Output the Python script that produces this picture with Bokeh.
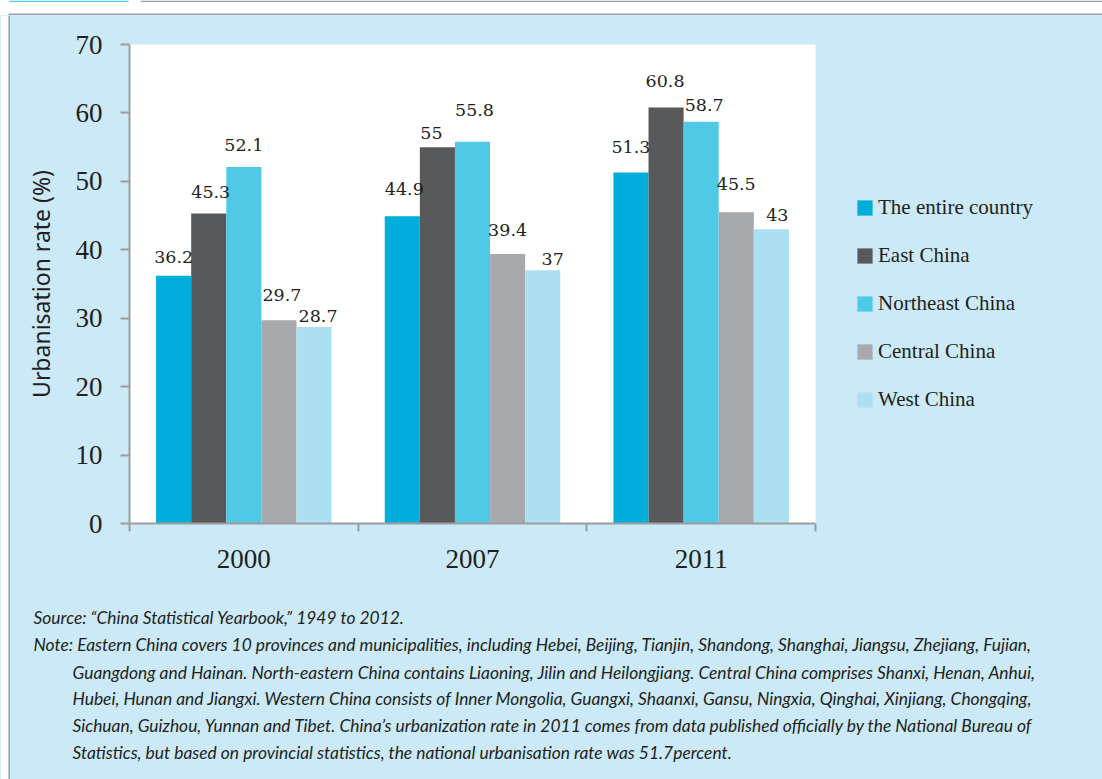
from bokeh.plotting import figure
from bokeh.layouts import column, row
from bokeh.models import (ColumnDataSource, Range1d, FixedTicker, Legend, LegendItem,
                          Label, BoxAnnotation)
from bokeh.embed import file_html
from bokeh.resources import INLINE

# ---------------- data ----------------
years = ["2000", "2007", "2011"]
series_names = ["The entire country", "East China", "Northeast China", "Central China", "West China"]
entire_country = [36.2, 44.9, 51.3]
east_china = [45.3, 55.0, 60.8]
northeast_china = [52.1, 55.8, 58.7]
central_china = [29.7, 39.4, 45.5]
west_china = [28.7, 37.0, 43.0]
y_ticks = [0, 10, 20, 30, 40, 50, 60, 70]
y_title = "Urbanisation rate (%)"
note_lines = [
    "Source: \u201cChina Statistical Yearbook,\u201d 1949 to 2012.",
    "Note: Eastern China covers 10 provinces and municipalities, including Hebei, Beijing, Tianjin, Shandong, Shanghai, Jiangsu, Zhejiang, Fujian,",
    "Guangdong and Hainan. North-eastern China contains Liaoning, Jilin and Heilongjiang. Central China comprises Shanxi, Henan, Anhui,",
    "Hubei, Hunan and Jiangxi. Western China consists of Inner Mongolia, Guangxi, Shaanxi, Gansu, Ningxia, Qinghai, Xinjiang, Chongqing,",
    "Sichuan, Guizhou, Yunnan and Tibet. China\u2019s urbanization rate in 2011 comes from data published officially by the National Bureau of",
    "Statistics, but based on provincial statistics, the national urbanisation rate was 51.7percent.",
]

all_series = [entire_country, east_china, northeast_china, central_china, west_china]

# ---------------- styles ----------------
colors = ["#00AEDB", "#58595B", "#50C9E7", "#A7A9AC", "#ABDFF1"]
panel_bg = "#CBE9F6"
text_color = "#231F20"
axis_gray = "#9D9D9F"
border_gray = "#A0A0A2"
# per-label pixel nudges (series x year), as in the original artwork
label_gap = [[19, 27, 25], [22, 14, 26], [22, 32, 17], [25, 24, 28], [11, 11, 14]]
label_dx = [[0, 2, 0], [2, -6, -1], [0, 2, 3], [3, 0, 0], [4, 10, 6]]

TOTAL_W, TOTAL_H = 1102, 779
TOP_H = 15
LEFT_W = 10
CHART_W, CHART_H = 807, 575
LEG_W = TOTAL_W - LEFT_W - CHART_W
NOTES_H = TOTAL_H - TOP_H - CHART_H
NOTES_W = TOTAL_W - LEFT_W


def blank(w, h, xr, yr, bg):
    f = figure(width=w, height=h, output_backend="svg", toolbar_location=None,
               x_range=xr, y_range=yr, x_axis_type=None, y_axis_type=None,
               min_border=0, min_border_left=0, min_border_right=0,
               min_border_top=0, min_border_bottom=0)
    f.background_fill_color = bg
    f.border_fill_color = bg
    f.outline_line_color = None
    f.grid.grid_line_color = None
    return f


def box(l, r, t, b, col):
    return BoxAnnotation(left=l, right=r, top=t, bottom=b, fill_color=col, fill_alpha=1,
                         line_alpha=0, level="overlay")


# ---- top strip ----
top = blank(TOTAL_W, TOP_H, Range1d(0, TOTAL_W), Range1d(TOP_H, 0), "white")
top.add_layout(box(9, 128, 0, 1.5, "#4FC8E8"))
top.add_layout(box(140, TOTAL_W, 0, 1.5, border_gray))
top.add_layout(box(8, TOTAL_W, 13, 15, border_gray))

# ---- left strip ----
left = blank(LEFT_W, TOTAL_H - TOP_H, Range1d(0, LEFT_W), Range1d(0, 1), panel_bg)
left.add_layout(box(0, 8, 1, 0, "white"))
left.add_layout(box(8, 9.5, 1, 0, border_gray))

# ---- chart ----
p = figure(width=CHART_W, height=CHART_H, output_backend="svg", toolbar_location=None,
           x_range=Range1d(0, 3), y_range=Range1d(0, 70),
           min_border_left=119, min_border_top=29, min_border_right=2, min_border_bottom=67)
p.border_fill_color = panel_bg
p.background_fill_color = "white"
p.outline_line_color = None
p.xgrid.grid_line_color = None
p.ygrid.grid_line_color = None

bar_w = 0.1535
offsets = [-2, -1, 0, 1, 2]
for k, (name, vals, col) in enumerate(zip(series_names, all_series, colors)):
    xs = [i + 0.5 + offsets[k] * bar_w for i in range(len(years))]
    src = ColumnDataSource(dict(x=xs, top=vals))
    p.vbar(x="x", top="top", width=bar_w, bottom=0, source=src,
           fill_color=col, line_color=None)
    for j in range(len(years)):
        p.add_layout(Label(x=xs[j], y=vals[j], text=f"{vals[j]:g}", text_align="center",
                           text_baseline="alphabetic", y_offset=label_gap[k][j],
                           x_offset=label_dx[k][j],
                           text_font="DejaVu Serif", text_font_size="17.5px",
                           text_color=text_color))

xa = p.xaxis[0]
xa.ticker = FixedTicker(ticks=[0.5, 1.5, 2.5], minor_ticks=[0, 1, 2, 3])
xa.major_label_overrides = {0.5: years[0], 1.5: years[1], 2.5: years[2]}
xa.major_tick_out = 0
xa.major_tick_in = 0
xa.minor_tick_out = 8
xa.minor_tick_in = 0
xa.minor_tick_line_color = axis_gray
xa.minor_tick_line_width = 2
xa.axis_line_color = axis_gray
xa.axis_line_width = 2
xa.major_label_standoff = 18
xa.major_label_text_font = "Liberation Serif"
xa.major_label_text_font_size = "27px"
xa.major_label_text_color = text_color

ya = p.yaxis[0]
ya.ticker = FixedTicker(ticks=y_ticks)
ya.major_tick_out = 9
ya.major_tick_in = 0
ya.minor_tick_out = 0
ya.minor_tick_in = 0
ya.major_tick_line_color = axis_gray
ya.major_tick_line_width = 2
ya.axis_line_color = axis_gray
ya.axis_line_width = 2
ya.major_label_standoff = 18
ya.major_label_text_font = "Liberation Serif"
ya.major_label_text_font_size = "27px"
ya.major_label_text_color = text_color
ya.axis_label = y_title
ya.axis_label_text_font = "Noto Sans"
ya.axis_label_text_font_style = "normal"
ya.axis_label_text_font_size = "23px"
ya.axis_label_text_color = text_color
ya.axis_label_standoff = 16

# ---- legend ----
lg = blank(LEG_W, CHART_H, Range1d(0, 1), Range1d(0, 1), panel_bg)
leg_items = []
for name, col in zip(series_names, colors):
    r = lg.vbar(x=[0.5], top=[0], bottom=0, width=0.0, fill_color=col, line_color=None)
    leg_items.append(LegendItem(label=name, renderers=[r]))
legend = Legend(items=leg_items, location=(38, 111), orientation="vertical")
legend.background_fill_alpha = 0
legend.border_line_color = None
legend.padding = 0
legend.margin = 0
legend.spacing = 23
legend.glyph_width = 19
legend.glyph_height = 19
legend.label_height = 24
legend.label_standoff = 4
legend.label_text_font = "Liberation Serif"
legend.label_text_font_size = "21px"
legend.label_text_color = text_color
legend.label_text_baseline = "middle"
lg.add_layout(legend, "center")

# ---- notes ----
note_y = [162, 135, 107, 81, 54, 27]   # distance from bottom of the notes block
nt = blank(NOTES_W, NOTES_H, Range1d(0, 1), Range1d(0, 1), panel_bg)
for i, line in enumerate(note_lines):
    xpos = 23 if i < 2 else 62
    nt.add_layout(Label(x=xpos, y=note_y[i], x_units="screen", y_units="screen",
                        text=line, text_font="Lato", text_font_style="italic",
                        text_font_size="17.4px", text_color=text_color,
                        text_baseline="middle", text_align="left"))

bg = {"background-color": panel_bg}
layout = column(top, row(left, column(row(p, lg, styles=bg), nt, styles=bg), styles=bg))
open("out.html", "w").write(file_html(layout, INLINE))
